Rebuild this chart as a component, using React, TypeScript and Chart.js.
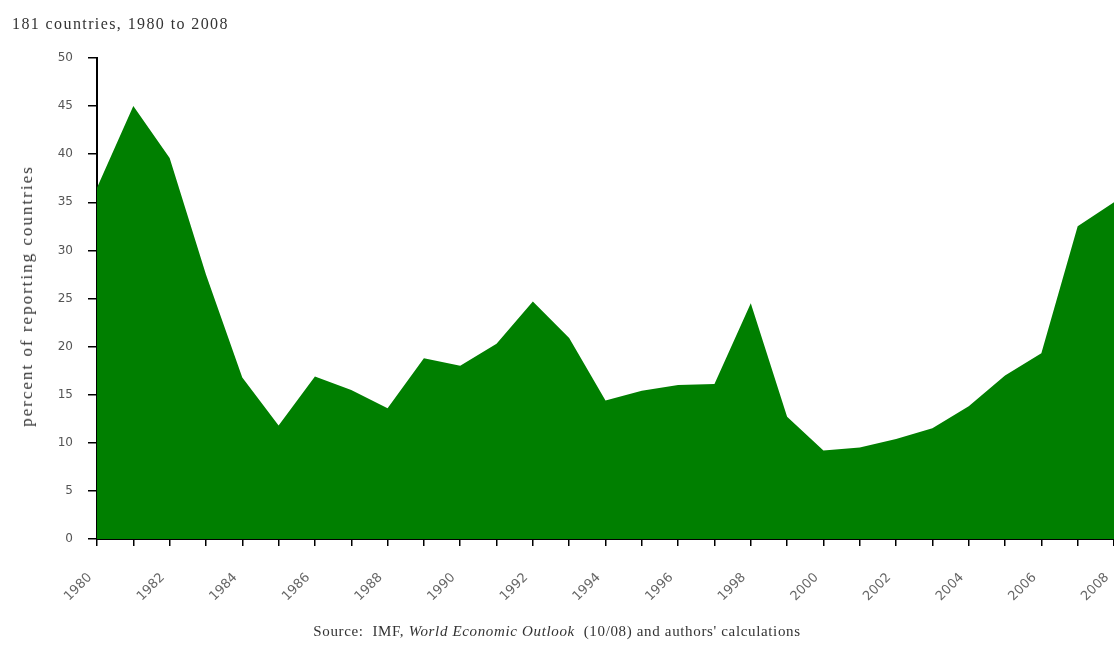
import React, { useEffect, useRef } from "react";
import { Chart, registerables } from "chart.js";

Chart.register(...registerables);

const years: string[] = [
  "1980", "1981", "1982", "1983", "1984", "1985", "1986", "1987", "1988", "1989",
  "1990", "1991", "1992", "1993", "1994", "1995", "1996", "1997", "1998", "1999",
  "2000", "2001", "2002", "2003", "2004", "2005", "2006", "2007", "2008",
];

const percentReporting: number[] = [
  36.5, 45.0, 39.6, 27.5, 16.8, 11.8, 16.9, 15.5, 13.6, 18.8,
  18.0, 20.3, 24.7, 20.9, 14.4, 15.4, 16.0, 16.1, 24.5, 12.7,
  9.2, 9.5, 10.4, 11.5, 13.8, 17.0, 19.3, 32.5, 35.0,
];

const yTicks: number[] = [0, 5, 10, 15, 20, 25, 30, 35, 40, 45, 50];

const subtitle = "181 countries, 1980 to 2008";
const yTitle = "percent of reporting countries";

export default function App() {
  const canvasRef = useRef<HTMLCanvasElement | null>(null);

  useEffect(() => {
    if (!canvasRef.current) return;
    const chart = new Chart(canvasRef.current, {
      type: "line",
      data: {
        labels: years,
        datasets: [
          {
            data: percentReporting,
            backgroundColor: "#007f00",
            borderColor: "#007f00",
            borderWidth: 0,
            pointRadius: 0,
            fill: "origin",
            tension: 0,
          },
        ],
      },
      options: {
        animation: false,
        responsive: false,
        maintainAspectRatio: false,
        layout: { padding: { top: 58, right: 0, bottom: 0, left: 0 } },
        plugins: {
          legend: { display: false },
          tooltip: { enabled: false },
          title: { display: false },
        },
        scales: {
          x: {
            type: "category",
            offset: false,
            afterFit: (scale: any) => {
              scale.height = 108;
              scale.paddingLeft = 0;
              scale.paddingRight = 0;
            },
            grid: {
              display: true,
              drawOnChartArea: false,
              drawTicks: true,
              tickLength: 7,
              color: "#000",
              lineWidth: 1.5,
            },
            border: { display: true, color: "#000", width: 2 },
            ticks: {
              autoSkip: false,
              maxRotation: 45,
              minRotation: 45,
              padding: 24,
              labelOffset: -7,
              color: "#666",
              font: { family: "DejaVu Sans", size: 13 },
              callback: function (this: any, _v: any, i: number) {
                return i % 2 === 0 ? years[i] : "";
              },
            },
          },
          y: {
            min: 0,
            max: 50,
            afterFit: (scale: any) => {
              scale.width = 97;
              scale.paddingTop = 0;
              scale.paddingBottom = 0;
            },
            afterBuildTicks: (scale: any) => {
              scale.ticks = yTicks.map((v) => ({ value: v }));
            },
            grid: {
              display: true,
              drawOnChartArea: false,
              drawTicks: true,
              tickLength: 9,
              color: "#000",
              lineWidth: 1.5,
            },
            border: { display: true, color: "#000", width: 2 },
            ticks: {
              padding: 15,
              color: "#555",
              font: { family: "DejaVu Sans", size: 12 },
            },
          },
        },
      },
    });
    return () => chart.destroy();
  }, []);

  return (
    <div
      style={{
        position: "absolute",
        left: 0,
        top: 0,
        width: 1114,
        height: 647,
        background: "#fff",
        overflow: "hidden",
      }}
    >
      <canvas
        ref={canvasRef}
        width={1114}
        height={647}
        style={{ position: "absolute", left: 0, top: 0, width: 1114, height: 647 }}
      />
      <div
        style={{
          position: "absolute",
          left: 12,
          top: 15,
          fontFamily: "Liberation Serif",
          fontSize: 16,
          letterSpacing: 1.4,
          color: "#333",
          whiteSpace: "nowrap",
        }}
      >
        {subtitle}
      </div>
      <div
        style={{
          position: "absolute",
          left: 27,
          top: 296,
          transform: "translate(-50%, -50%) rotate(-90deg)",
          fontFamily: "Liberation Serif",
          fontSize: 17,
          letterSpacing: 2,
          color: "#333",
          whiteSpace: "nowrap",
          lineHeight: "20px",
        }}
      >
        {yTitle}
      </div>
      <div
        style={{
          position: "absolute",
          left: 0,
          width: 1114,
          top: 623,
          textAlign: "center",
          fontFamily: "Liberation Serif",
          fontSize: 15,
          letterSpacing: 0.65,
          color: "#333",
          whiteSpace: "nowrap",
        }}
      >
        Source:&nbsp; IMF, <i>World Economic Outlook</i>&nbsp; (10/08) and authors' calculations
      </div>
    </div>
  );
}
